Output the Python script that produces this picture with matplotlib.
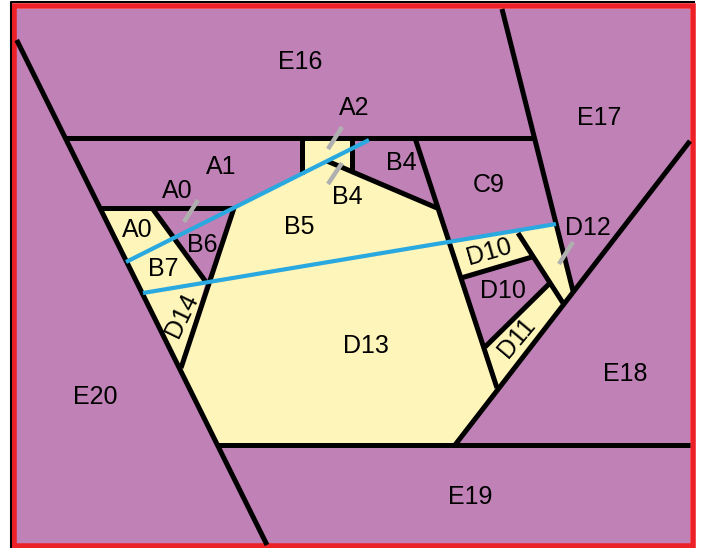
import matplotlib.pyplot as plt
from matplotlib.patches import Polygon, Rectangle

# Контуры жёлтых областей (пиксели исходной картинки, y вниз)
yellow_big = [(234, 208), (302, 174), (302, 138), (352, 138), (352, 172), (437, 208),
              (497, 388), (455, 445), (217, 445), (180, 368)]
yellow_left = [(100, 208), (152, 208), (206, 282), (180, 368)]
yellow_d10 = [(449, 242), (519, 232), (532, 257), (461, 278)]
yellow_d11 = [(485, 347), (550, 283), (563, 303), (497, 388)]
yellow_d12 = [(519, 232), (555, 224), (573, 291), (563, 303)]

# Чёрные границы
black_segments = [
    [(16.7, 40), (267, 545)],
    [(66, 138), (533, 138)],
    [(502, 9), (573, 291)],
    [(690, 141), (455, 445)],
    [(217, 445), (690, 445)],
    [(100, 208), (234, 208)],
    [(234, 208), (181, 368)],
    [(152, 208), (206, 282)],
    [(302, 138), (302, 174)],
    [(352, 138), (352, 172)],
    [(327, 161), (437, 208)],
    [(415, 138), (497, 388)],
    [(461, 278), (532, 257)],
    [(518, 233), (563, 303)],
    [(550, 283), (485, 347)],
]

# Синие линии и серые засечки
blue_segments = [[(126, 262), (369, 140)], [(143, 293), (556, 224)]]
gray_ticks = [[(198, 200), (184, 222)], [(342, 127), (328, 149)],
              [(342, 163), (328, 184)], [(573, 242), (559, 264)]]

# Подписи
labels = ['E16', 'A2', 'E17', 'A1', 'A0', 'B4', 'B4', 'C9', 'D12', 'A0', 'B6', 'B5',
          'B7', 'D10', 'D10', 'D11', 'D14', 'D13', 'E20', 'E18', 'E19']
label_x = [300, 354, 599, 221, 177, 401, 347, 489, 588, 137, 202, 299,
           163, 489, 503, 517, 182, 366, 95, 625, 470]
label_y = [62, 108, 118, 167, 191, 163, 197, 185, 228, 230, 245, 227,
           269, 252, 291, 338, 315, 346, 397, 374, 497]
label_rot = [0, 0, 0, 0, 0, 0, 0, 0, 0, 0, 0, 0,
             0, 16, 0, 50, 64, 0, 0, 0, 0]

purple = '#bf81b6'
yellow = '#fdf5ba'

fig = plt.figure(figsize=(7.04, 5.48), dpi=100)
ax = fig.add_axes([0, 0, 1, 1])
ax.set_xlim(0, 704)
ax.set_ylim(548, 0)
ax.axis('off')

ax.add_patch(Rectangle((16, 9), 674, 536, facecolor=purple, edgecolor='none'))
for poly in [yellow_big, yellow_left, yellow_d10, yellow_d11, yellow_d12]:
    ax.add_patch(Polygon(poly, closed=True, facecolor=yellow, edgecolor='none'))

for seg in black_segments:
    xs, ys = zip(*seg)
    ax.plot(xs, ys, color='black', lw=3.6, solid_capstyle='butt')
for seg in blue_segments:
    xs, ys = zip(*seg)
    ax.plot(xs, ys, color='#29a9e0', lw=3.0, solid_capstyle='butt')
for seg in gray_ticks:
    xs, ys = zip(*seg)
    ax.plot(xs, ys, color='#b0b0b0', lw=3.2, solid_capstyle='butt')

for t, x, y, r in zip(labels, label_x, label_y, label_rot):
    ax.text(x, y, t, ha='center', va='center', rotation=r, rotation_mode='anchor',
            fontsize=18, family='Liberation Sans', color='black')

# рамка
ax.plot([11, 11, 694], [548, 1.5, 1.5], color='black', lw=1.5)
ax.add_patch(Rectangle((14, 6), 678.5, 540, facecolor='none', edgecolor='#ee2027', lw=4))

fig.savefig('out.png', dpi=100)
